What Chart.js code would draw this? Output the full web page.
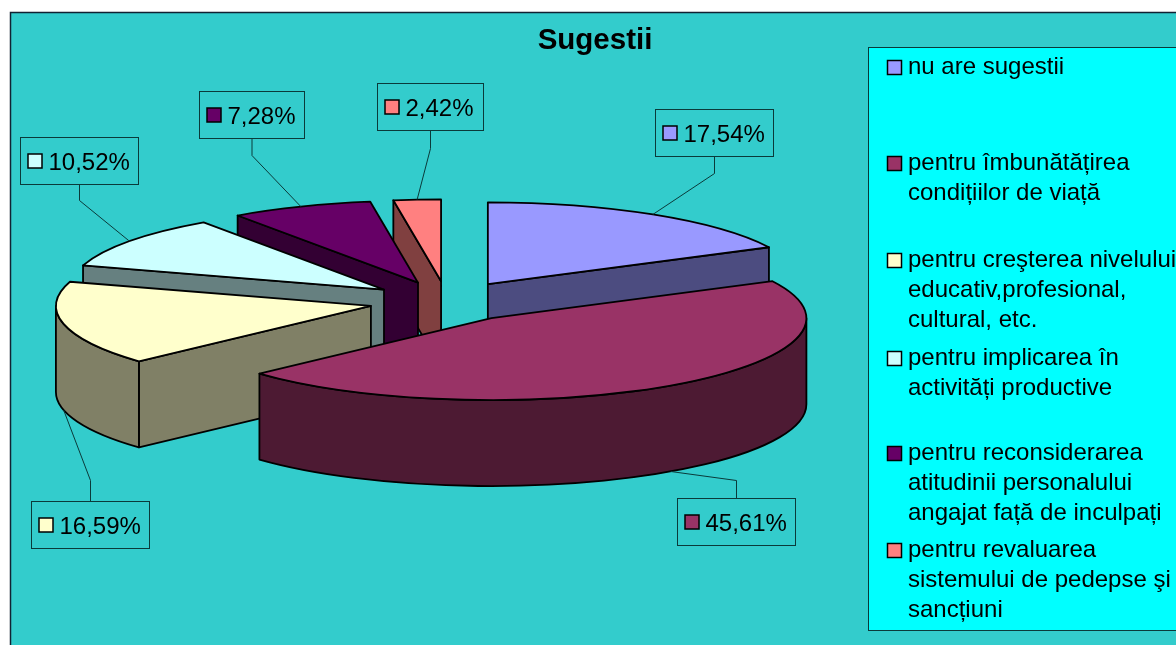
<!DOCTYPE html>
<html>
<head>
<meta charset="utf-8">
<style>
  html, body { margin: 0; padding: 0; background: #fff; overflow: hidden; }
  canvas { display: block; }
</style>
<script src="https://cdn.jsdelivr.net/npm/chart.js@4"></script>
</head>
<body>
<canvas id="chart" width="1176" height="645"></canvas>
<script>
const chartTitle = "Sugestii";
const categories = [
  "nu are sugestii",
  "pentru îmbunătățirea condițiilor de viață",
  "pentru creşterea nivelului educativ,profesional, cultural, etc.",
  "pentru implicarea în activități productive",
  "pentru reconsiderarea atitudinii personalului angajat față de inculpați",
  "pentru revaluarea sistemului de pedepse şi sancțiuni"
];
const values = [17.54, 45.61, 16.59, 10.52, 7.28, 2.42];
const legendLines = [
  ["nu are sugestii"],
  ["pentru îmbunătățirea", "condițiilor de viață"],
  ["pentru creşterea nivelului", "educativ,profesional,", "cultural, etc."],
  ["pentru implicarea în", "activități productive"],
  ["pentru reconsiderarea", "atitudinii personalului", "angajat față de inculpați"],
  ["pentru revaluarea", "sistemului de pedepse şi", "sancțiuni"]
];
const topColors = ["#9999FF", "#993366", "#FFFFCC", "#CCFFFF", "#660066", "#FF8080"];
const sideColors = ["#4C4C80", "#4D1A33", "#808066", "#668080", "#330033", "#804040"];

// look of the fake 3d pie
const tilt = 0.26;
const depth = 86;
const explode = 78;
const paintOrder = [0, 5, 4, 3, 2, 1];

// where the boxes sit: left, top, width of each value label, then legend baselines
const labelBoxes = [[655, 109, 118], [677, 498, 118], [31, 501, 118], [20, 137, 118], [199, 91, 105], [377, 83, 106]];
const leaderKnees = [173, 480, 480, 200, 155, 148];
const legendBaselines = [74, 170, 267, 365, 460, 557];

const FONT = '"Liberation Sans", Arial, sans-serif';

function pct(v) {
  return v.toFixed(2).replace(".", ",") + "%";
}

// centre of an exploded slice on screen
function sliceCentre(arc) {
  const mid = (arc.startAngle + arc.endAngle) / 2;
  return {
    x: arc.x + Math.cos(mid) * explode,
    y: arc.y + Math.sin(mid) * explode * tilt
  };
}

function edgePoint(arc, c, angle) {
  return {
    x: c.x + Math.cos(angle) * arc.outerRadius,
    y: c.y + Math.sin(angle) * arc.outerRadius * tilt
  };
}

function drawRadialWall(ctx, arc, c, angle) {
  const p = edgePoint(arc, c, angle);
  ctx.beginPath();
  ctx.moveTo(c.x, c.y);
  ctx.lineTo(p.x, p.y);
  ctx.lineTo(p.x, p.y + depth);
  ctx.lineTo(c.x, c.y + depth);
  ctx.closePath();
  ctx.fill();
  ctx.stroke();
}

function drawOuterWall(ctx, arc, c) {
  const from = Math.max(arc.startAngle, 0);
  const to = Math.min(arc.endAngle, Math.PI);
  if (to <= from) return;
  const ry = arc.outerRadius * tilt;
  ctx.beginPath();
  ctx.ellipse(c.x, c.y, arc.outerRadius, ry, 0, from, to);
  ctx.ellipse(c.x, c.y + depth, arc.outerRadius, ry, 0, to, from, true);
  ctx.closePath();
  ctx.fill();
  ctx.stroke();
}

function drawSlice(ctx, arc, i) {
  const c = sliceCentre(arc);
  ctx.save();
  ctx.lineWidth = 1.8;
  ctx.lineJoin = "round";
  ctx.strokeStyle = "#000";
  ctx.fillStyle = sideColors[i];
  if (Math.cos(arc.startAngle) < -1e-6) drawRadialWall(ctx, arc, c, arc.startAngle);
  if (Math.cos(arc.endAngle) > 1e-6) drawRadialWall(ctx, arc, c, arc.endAngle);
  drawOuterWall(ctx, arc, c);

  // top face is the library's own arc, squashed and moved
  ctx.save();
  ctx.translate(c.x, c.y);
  ctx.scale(1, tilt);
  ctx.translate(-arc.x, -arc.y);
  arc.draw(ctx);
  ctx.restore();

  ctx.beginPath();
  ctx.moveTo(c.x, c.y);
  ctx.ellipse(c.x, c.y, arc.outerRadius, arc.outerRadius * tilt, 0, arc.startAngle, arc.endAngle);
  ctx.closePath();
  ctx.stroke();
  ctx.restore();
}

function swatch(ctx, x, y, color) {
  ctx.fillStyle = color;
  ctx.strokeStyle = "#000";
  ctx.lineWidth = 1.5;
  ctx.fillRect(x, y, 14, 14);
  ctx.strokeRect(x, y, 14, 14);
}

function drawValueLabels(chart) {
  const ctx = chart.ctx;
  const arcs = chart.getDatasetMeta(0).data;
  ctx.save();
  arcs.forEach(function(arc, i) {
    const [left, top, width] = labelBoxes[i];
    const c = sliceCentre(arc);
    const mid = (arc.startAngle + arc.endAngle) / 2;
    const end = edgePoint(arc, c, mid);
    if (Math.sin(mid) > -0.3 && Math.cos(mid) < 0 || Math.sin(mid) > 0) end.y += depth;
    const boxMid = left + width / 2 + 0.5;
    const fromTop = top > end.y;

    ctx.strokeStyle = "#0a3a3a";
    ctx.lineWidth = 1;
    ctx.beginPath();
    ctx.moveTo(boxMid, fromTop ? top : top + 47);
    ctx.lineTo(boxMid, leaderKnees[i] + 0.5);
    ctx.lineTo(end.x, end.y);
    ctx.stroke();

    ctx.strokeRect(left + 0.5, top + 0.5, width, 47);
    swatch(ctx, left + 8, top + 17, topColors[i]);
    ctx.fillStyle = "#000";
    ctx.font = "24px " + FONT;
    ctx.textAlign = "left";
    ctx.textBaseline = "alphabetic";
    ctx.fillText(pct(values[i]), left + 28.5, top + 32.5);
  });
  ctx.restore();
}

function drawLegend(chart) {
  const ctx = chart.ctx;
  ctx.save();
  ctx.fillStyle = "#00FFFF";
  ctx.fillRect(868, 47, 320, 584);
  ctx.strokeStyle = "#0a3a3a";
  ctx.lineWidth = 1;
  ctx.strokeRect(868.5, 47.5, 320, 583);
  ctx.font = "24px " + FONT;
  ctx.textAlign = "left";
  ctx.textBaseline = "alphabetic";
  legendLines.forEach(function(lines, i) {
    const base = legendBaselines[i];
    swatch(ctx, 887.5, base - 13.5, topColors[i]);
    ctx.fillStyle = "#000";
    lines.forEach(function(line, j) {
      ctx.fillText(line, 908, base + j * 30);
    });
  });
  ctx.restore();
}

const fakePie3d = {
  id: "fakePie3d",
  beforeDraw(chart) {
    const ctx = chart.ctx;
    ctx.save();
    ctx.fillStyle = "#fff";
    ctx.fillRect(0, 0, chart.width, chart.height);
    ctx.fillStyle = "#33CCCC";
    ctx.fillRect(10, 12, chart.width, chart.height);
    ctx.strokeStyle = "#123";
    ctx.lineWidth = 1.5;
    ctx.beginPath();
    ctx.moveTo(10.5, chart.height);
    ctx.lineTo(10.5, 12.5);
    ctx.lineTo(chart.width, 12.5);
    ctx.stroke();
    ctx.fillStyle = "#000";
    ctx.font = "bold 29.5px " + FONT;
    ctx.textAlign = "center";
    ctx.textBaseline = "middle";
    ctx.fillText(chartTitle, 595, 41);
    ctx.restore();
  },
  beforeDatasetDraw(chart, args) {
    const arcs = args.meta.data;
    paintOrder.forEach(i => drawSlice(chart.ctx, arcs[i], i));
    return false;
  },
  afterDraw(chart) {
    drawValueLabels(chart);
    drawLegend(chart);
  }
};

new Chart(document.getElementById("chart"), {
  type: "pie",
  data: {
    labels: categories,
    datasets: [{
      data: values,
      backgroundColor: topColors,
      borderWidth: 0,
      radius: 315
    }]
  },
  options: {
    responsive: false,
    animation: false,
    layout: { padding: { right: 282, bottom: 42 } },
    plugins: {
      legend: { display: false },
      tooltip: { enabled: false }
    }
  },
  plugins: [fakePie3d]
});
</script>
</body>
</html>
